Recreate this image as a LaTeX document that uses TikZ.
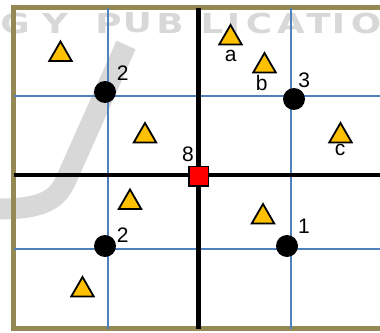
\documentclass[tikz,border=0pt]{standalone}
\usepackage{fontspec}
\setmainfont{Liberation Sans}
\newfontfamily\wmfont{DejaVu Sans}
\usetikzlibrary{shapes.geometric, positioning}
\definecolor{frameolive}{RGB}{148,137,84}
\definecolor{gridblue}{RGB}{79,129,189}
\definecolor{markyellow}{RGB}{255,192,0}
\definecolor{wmgray}{RGB}{216,216,216}

\begin{document}
\begin{tikzpicture}[x=1pt, y=-1pt, font=\fontsize{21}{24}\selectfont,
  gridline/.style={gridblue, line width=2pt},
  axisline/.style={black, line width=4.5pt},
  site/.style={circle, fill=black, minimum size=22pt, inner sep=0pt},
  target/.style={regular polygon, regular polygon sides=3, draw=black, line width=1.8pt, fill=markyellow, minimum size=26pt, inner sep=0pt},
  hub/.style={rectangle, draw=black, line width=1.5pt, fill=red, minimum size=19.5pt, inner sep=0pt},
  lbl/.style={inner sep=0pt},
  wmletter/.style={text=wmgray, inner sep=0pt}]
  \useasboundingbox (0,0) rectangle (380,332);
  \clip (0,0) rectangle (380,332);
  % watermark
  \foreach \ch/\cx in {G/15, Y/55, P/108.5, U/137.5, B/170, L/212, I/233.5, C/259, A/291, T/318.5, I/338.5, O/366}
    \node[wmletter] at (\cx,23) {\scalebox{1.3}[1]{\wmfont\bfseries\fontsize{27.5}{30}\selectfont\ch}};
  \draw[wmgray, line width=21pt] (126,45) -- (66,180) .. controls (58,198) and (45,209) .. (0,209);
  % frame and grid
  \draw[frameolive, line width=4.5pt] (385,7.5) -| (13.5,328.5) -- (385,328.5);
  \draw[gridline] (108,7.5) -- (108,328.5);
  \draw[gridline] (290.5,7.5) -- (290.5,328.5);
  \draw[gridline] (13.5,96) -- (385,96);
  \draw[gridline] (13.5,248.5) -- (385,248.5);
  \draw[axisline] (198.5,7.5) -- (198.5,328.5);
  \draw[axisline] (13.5,175) -- (385,175);
  % sites
  \node[site] (s2top) at (105,92) {};
  \node[site] (s3) at (294,99) {};
  \node[site] (s2bot) at (105,246) {};
  \node[site] (s1) at (287,246) {};
  \node[hub] (centre) at (198.5,176) {};
  % targets
  \node[target] (t1) at (60.5,54.5) {};
  \node[target] (t2) at (145,136) {};
  \node[target] (ta) at (230.5,38) {};
  \node[target] (tb) at (264.5,66) {};
  \node[target] (tc) at (340.5,136) {};
  \node[target] (t3) at (130,202.5) {};
  \node[target] (t4) at (82.5,290) {};
  \node[target] (t5) at (263,217) {};
  % labels
  \node[lbl] (l2top) at (122.7,72.7) {2};
  \node[lbl] (l3) at (304.3,80) {3};
  \node[lbl] (l2bot) at (122.7,235) {2};
  \node[lbl] (l1) at (304,226.5) {1};
  \node[lbl] (l8) at (188,154) {8};
  \node[lbl] (la) at (230.7,56) {a};
  \node[lbl] (lb) at (261.7,83.3) {b};
  \node[lbl] (lc) at (340,149.8) {c};
\end{tikzpicture}
\end{document}
